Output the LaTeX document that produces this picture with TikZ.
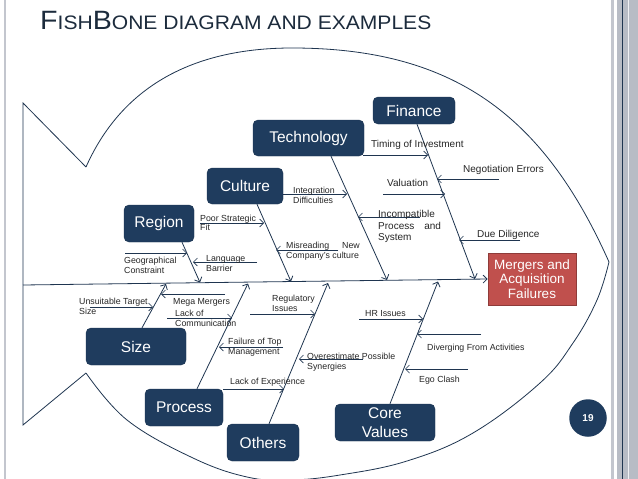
\documentclass[tikz,border=0pt]{standalone}
\usepackage{fontspec}
\setmainfont{Liberation Sans}
\usetikzlibrary{arrows.meta,calc}
\definecolor{navy}{HTML}{1F3C5E}
\definecolor{lineblue}{HTML}{1F3550}
\definecolor{redbox}{HTML}{C0504D}
\definecolor{redline}{HTML}{8E3B39}
\definecolor{titlecol}{HTML}{1C2B3C}
\definecolor{framegray}{HTML}{B8BCC5}
\begin{document}
\begin{tikzpicture}[x=1pt,y=-1pt,
  cat/.style={draw=navy!85!black, fill=navy, rounded corners=5pt, text=white,
    font=\fontsize{15.5}{19}\selectfont, inner sep=0pt, align=center},
  bone/.style={draw=lineblue, line width=0.8pt, -{Straight Barb[length=4pt,width=8pt]}},
  subarrow/.style={draw=lineblue, line width=0.7pt, -{Straight Barb[length=4pt,width=8pt]}},
  lbl/.style={inner sep=0pt, anchor=base west, align=left,
    font=\fontsize{8.8}{10.5}\selectfont, text=black!85},
  lblb/.style={lbl, font=\fontsize{10}{11.5}\selectfont},
  fishline/.style={draw=lineblue, line width=0.8pt}
]
\useasboundingbox (0,0) rectangle (638,479);
\fill[white] (0,0) rectangle (638,479);
% slide frame
\fill[framegray!85] (3.5,0) rectangle (6,479);
\fill[framegray!85] (611,0) rectangle (613.5,479);
\fill[framegray] (617,0) rectangle (638,479);
\draw[lineblue, line width=1pt] (622.5,0) -- (622.5,479);
\draw[white!80!framegray, line width=1pt] (628,0) -- (628,479);

% title
\node[anchor=base west, inner sep=0pt, text=titlecol] (title) at (40,29)
  {\scalebox{1.08}[1]{\fontsize{26.5}{30}\selectfont F\fontsize{19.5}{22}\selectfont ISH\fontsize{26.5}{30}\selectfont B\fontsize{19.5}{22}\selectfont ONE DIAGRAM AND EXAMPLES}};

% fish outline
\coordinate (tailtop) at (23,103);
\coordinate (tailbot) at (23,425);
\coordinate (bodytop) at (86,167);
\coordinate (bodybot) at (86,373);
\coordinate (apex) at (292,48);
\coordinate (nose) at (609,262);
\draw[fishline] (bodytop) to[out=66, in=180] (apex) to[out=0, in=114, looseness=1.08] (nose);
\draw[fishline] plot[smooth, tension=0.65] coordinates {(86,373) (127,420) (193,458) (247,477) (290,480) (340,475) (407,461) (473,433) (540,383) (573,343) (597,300) (609,262)};
\draw[fishline] (bodytop) -- (tailtop) -- (tailbot) -- (bodybot);

% category boxes
\node[cat, minimum width=82pt, minimum height=27pt] (fin) at (414,110.5) {Finance};
\node[cat, minimum width=111pt, minimum height=36pt] (tech) at (308.5,138) {Technology};
\node[cat, minimum width=76pt, minimum height=36pt] (cul) at (245,186) {Culture};
\node[cat, minimum width=70pt, minimum height=37pt] (reg) at (159,223.5) {Region};
\node[cat, minimum width=100pt, minimum height=37pt] (size) at (136,346.5) {Size};
\node[cat, minimum width=78pt, minimum height=37pt] (proc) at (184,407.5) {Process};
\node[cat, minimum width=72pt, minimum height=37pt] (oth) at (263,442.5) {Others};
\node[cat, minimum width=100pt, minimum height=37pt] (core) at (385,422.5) {Core\\Values};
\node[draw=redline, fill=redbox, text=white, font=\fontsize{13.5}{14.5}\selectfont, align=center,
  minimum width=88pt, minimum height=52pt, inner sep=0pt, line width=0.8pt] (merge) at (532,279)
  {Mergers and\\Acquisition\\Failures};
\node[circle, fill=navy, text=white, font=\bfseries\fontsize{10}{12}\selectfont,
  minimum size=37.5pt, inner sep=0pt] (pg) at (588,418) {19};

% spine
\coordinate (spine0) at (23,285);
\draw[bone] (spine0) -- (merge.west);

% main bones
\coordinate (tfin) at (475,279);
\coordinate (ttech) at (387,280);
\coordinate (tcul) at (291,281.5);
\coordinate (treg) at (200,282.5);
\coordinate (tsize) at (166,284);
\coordinate (tproc) at (248,283.5);
\coordinate (toth) at (328,283);
\coordinate (tcore) at (438,281.5);
\draw[bone] ([xshift=3pt]fin.south) -- (tfin);
\draw[bone] ([xshift=22.5pt]tech.south) -- (ttech);
\draw[bone] ([xshift=12pt]cul.south) -- (tcul);
\draw[bone] ([xshift=23pt]reg.south) -- (treg);
\draw[bone] ([xshift=6pt]size.north) -- (tsize);
\draw[bone] ([xshift=13pt]proc.north) -- (tproc);
\draw[bone] ([xshift=6pt]oth.north) -- (toth);
\draw[bone] ([xshift=5pt]core.north) -- (tcore);

% sub-bones: upper
\coordinate (s1) at (363,155);  \coordinate (e1) at (428,155);
\coordinate (s2) at (499,179);  \coordinate (e2) at (437,179);
\coordinate (s3) at (383,194);  \coordinate (e3) at (445,194);
\coordinate (s4) at (420,217);  \coordinate (e4) at (358,217);
\coordinate (s5) at (520,240);  \coordinate (e5) at (459,240);
\coordinate (s6) at (283,194);  \coordinate (e6) at (347,194);
\coordinate (s7) at (338,250);  \coordinate (e7) at (276,250);
\coordinate (s8) at (200,223);  \coordinate (e8) at (264,223);
\coordinate (s9) at (125,253);  \coordinate (e9) at (187,253);
\coordinate (s10) at (257,262); \coordinate (e10) at (193,262);
% sub-bones: lower
\coordinate (s11) at (90,307);  \coordinate (e11) at (153,307);
\coordinate (s12) at (225,294); \coordinate (e12) at (161,294);
\coordinate (s13) at (167,318); \coordinate (e13) at (232,318);
\coordinate (s14) at (283,347); \coordinate (e14) at (219,347);
\coordinate (s15) at (250,314); \coordinate (e15) at (315,314);
\coordinate (s16) at (363,359); \coordinate (e16) at (299,359);
\coordinate (s17) at (223,389); \coordinate (e17) at (284,389);
\coordinate (s18) at (359,319); \coordinate (e18) at (423,319);
\coordinate (s19) at (481,334); \coordinate (e19) at (417,334);
\coordinate (s20) at (468,369); \coordinate (e20) at (405,369);
\foreach \i in {1,...,20} {\draw[subarrow] (s\i) -- (e\i);}

% labels (multi-line labels: base = baseline of last line)
\node[lblb] (l1) at (371,147.5) {Timing of Investment};
\node[lblb] (l2) at (463,172.5) {Negotiation Errors};
\node[lblb] (l3) at (387,186.5) {Valuation};
\node[lblb] (l4) at (378,240.5) {Incompatible\\Process\hspace{10pt}and\\System};
\node[lblb] (l5) at (477,237.5) {Due Diligence};
\node[lbl] (l6) at (293,203.5) {Integration\\Difficulties};
\node[lbl] (l7) at (286,258.5) {Misreading\hspace{13pt}New\\Company's culture};
\node[lbl, font=\fontsize{8.8}{9.5}\selectfont] (l8) at (200,230.5) {Poor Strategic\\Fit};
\node[lbl] (l9) at (124,273.5) {Geographical\\Constraint};
\node[lbl] (l10) at (206,271.5) {Language\\Barrier};
\node[lbl, font=\fontsize{8.8}{10}\selectfont] (l11) at (79,314) {Unsuitable Target\\Size};
\node[lbl] (l12) at (173,304) {Mega Mergers};
\node[lbl, font=\fontsize{8.8}{10}\selectfont] (l13) at (175,326) {Lack of\\Communication};
\node[lbl] (l14) at (272,311.5) {Regulatory\\Issues};
\node[lbl, font=\fontsize{8.8}{10}\selectfont] (l15) at (228,354) {Failure of Top\\Management};
\node[lbl, font=\fontsize{8.8}{10}\selectfont] (l16) at (307,369) {Overestimate Possible\\Synergies};
\node[lbl] (l17) at (230,384) {Lack of Experience};
\node[lbl] (l18) at (365,316) {HR Issues};
\node[lbl] (l19) at (427,350) {Diverging From Activities};
\node[lbl] (l20) at (419,382) {Ego Clash};
\end{tikzpicture}
\end{document}
